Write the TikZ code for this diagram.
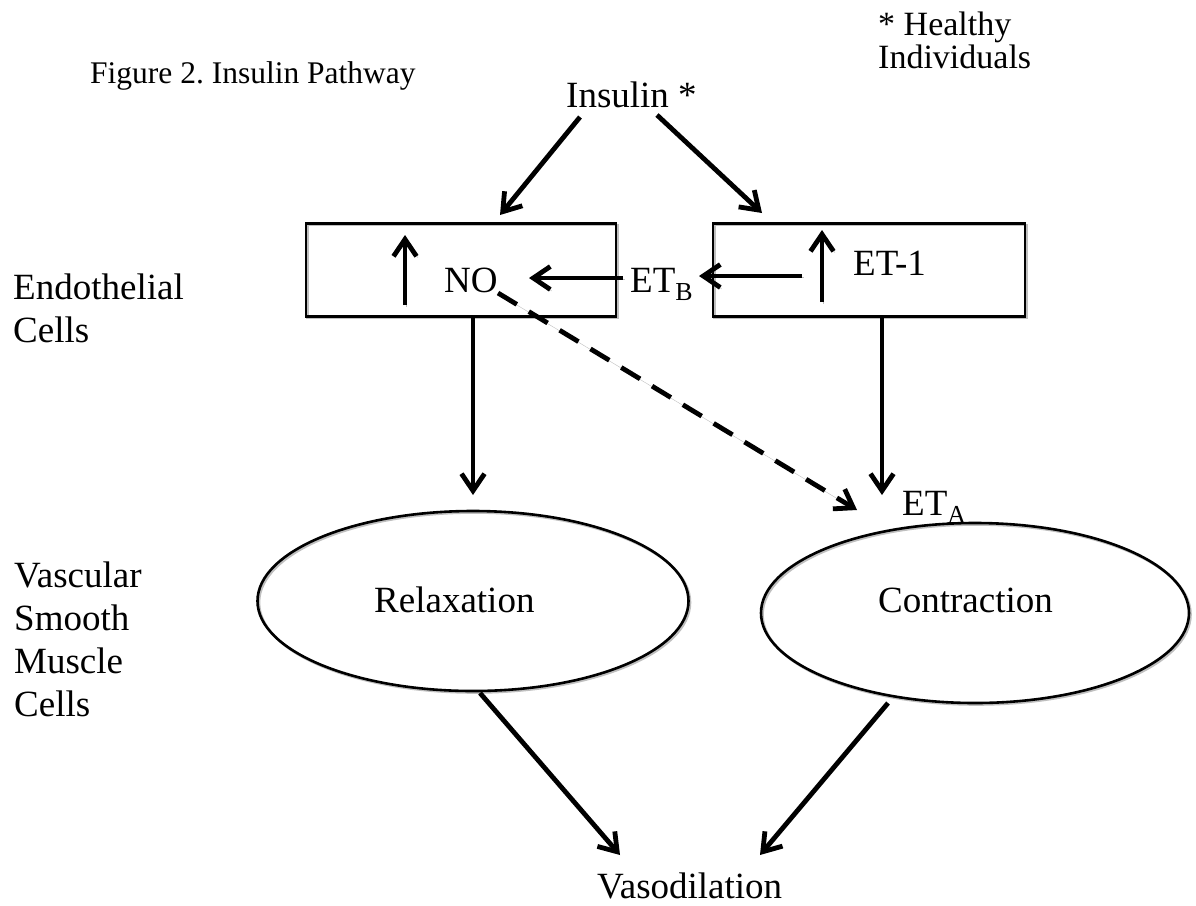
\documentclass[tikz,border=0pt]{standalone}
\usepackage{fontspec}
\setmainfont{Liberation Serif}
\usetikzlibrary{arrows.meta,shapes.geometric}
\frenchspacing
\begin{document}
\begin{tikzpicture}[x=1pt,y=-1pt,
  txt/.style={inner sep=0pt, anchor=base west, font=\fontsize{37}{43}\selectfont},
  captxt/.style={inner sep=0pt, anchor=base west, font=\fontsize{31.5}{36}\selectfont},
  notetxt/.style={inner sep=0pt, anchor=base west, font=\fontsize{34}{38}\selectfont},
  shd/.style={preaction={draw=black!25, transform canvas={shift={(1.5pt,-1.5pt)}}}},
  arr/.style={line width=4.8pt, shd, -{Straight Barb[length=17pt,width=23pt]}},
  dasharr/.style={arr, dash pattern=on 22pt off 14pt},
  cellbox/.style={draw, line width=2.6pt, rectangle, shd, inner sep=0pt},
  oval/.style={draw, line width=2.6pt, ellipse, shd, inner sep=0pt},
]
\useasboundingbox (0,0) rectangle (1196,905);

% texts
\node[captxt] (caption) at (90,83) {Figure 2. Insulin Pathway};
\node[notetxt] (hl1) at (878,35) {* Healthy};
\node[notetxt] (hl2) at (878,68) {Individuals};
\node[txt] (ins) at (566,107) {Insulin *};
\node[txt] (endo1) at (13,299) {Endothelial};
\node[txt] (endo2) at (13,342) {Cells};
\node[txt] (vsm1) at (14,587) {Vascular};
\node[txt] (vsm2) at (14,630) {Smooth};
\node[txt] (vsm3) at (14,673) {Muscle};
\node[txt] (vsm4) at (14,716) {Cells};

% boxes
\node[cellbox, minimum width=310pt, minimum height=93pt] (lbox) at (461,270) {};
\node[cellbox, minimum width=312pt, minimum height=93pt] (rbox) at (869,270) {};
\node[txt] (no) at (444,292) {NO};
\node[txt] (etb) at (630,292) {ET\textsubscript{B}};
\node[txt] (et1) at (853,275) {ET-1};
\node[txt] (eta) at (902,515) {ET\textsubscript{A}};

% ellipses
\node[oval, minimum width=431pt, minimum height=180pt] (relax) at (473,601) {};
\node[oval, minimum width=428pt, minimum height=180pt] (contr) at (975,613) {};
\node[txt] (reltx) at (374,612) {Relaxation};
\node[txt] (contx) at (878,612) {Contraction};
\node[txt] (vaso) at (597,898) {Vasodilation};

% connector end points
\coordinate (insL) at (580,117);
\coordinate (lboxIn) at (500,215);
\coordinate (insR) at (657,115);
\coordinate (rboxIn) at (762,213);
\coordinate (upLa) at (405,305);
\coordinate (upLb) at (405,235);
\coordinate (upRa) at (822,302);
\coordinate (upRb) at (822,230);
\coordinate (etbOut) at (623,278);
\coordinate (noIn) at (529,278);
\coordinate (et1Out) at (802,276);
\coordinate (etbIn) at (699,276);
\coordinate (noOut) at (498,293);
\coordinate (etaInD) at (857,510);
\coordinate (lboxOut) at (473,317);
\coordinate (relIn) at (473,495);
\coordinate (rboxOut) at (882,317);
\coordinate (etaIn) at (882,495);
\coordinate (relOut) at (480,693);
\coordinate (vasoInL) at (620,855);
\coordinate (conOut) at (888,703);
\coordinate (vasoInR) at (760,855);

% connectors
\draw[arr] (insL) -- (lboxIn);
\draw[arr] (insR) -- (rboxIn);
\draw[arr] (upLa) -- (upLb);
\draw[arr] (upRa) -- (upRb);
\draw[arr] (etbOut) -- (noIn);
\draw[arr] (et1Out) -- (etbIn);
\draw[dasharr] (noOut) -- (etaInD);
\draw[arr] (lboxOut) -- (relIn);
\draw[arr] (rboxOut) -- (etaIn);
\draw[arr] (relOut) -- (vasoInL);
\draw[arr] (conOut) -- (vasoInR);
\end{tikzpicture}
\end{document}
